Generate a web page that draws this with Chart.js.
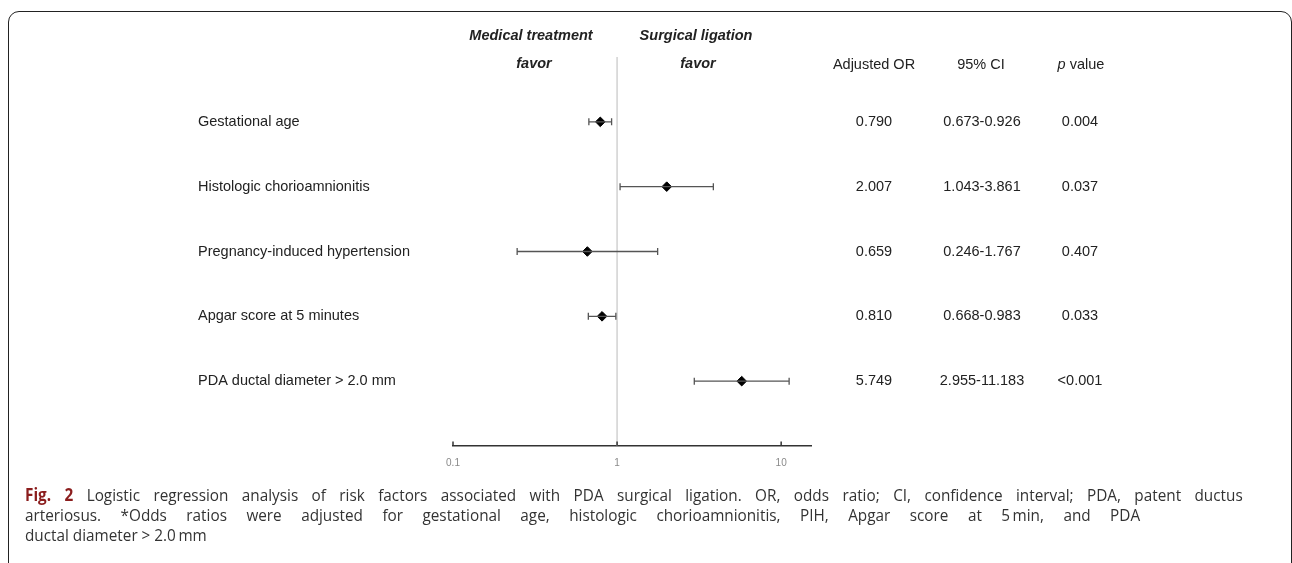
<!DOCTYPE html>
<html>
<head>
<meta charset="utf-8">
<script src="https://cdn.jsdelivr.net/npm/chart.js@4.4.1/dist/chart.umd.min.js"></script>
<style>
  html, body { margin: 0; padding: 0; background: #fff; width: 1292px; height: 563px; overflow: hidden; }
  #frame { position: absolute; left: 8px; top: 11px; width: 1282px; height: 620px; border: 1.6px solid #222; border-radius: 11px; }
  #wrap { position: absolute; left: 0; top: 0; width: 1292px; height: 563px; }
  .hdr { position: absolute; font: italic bold 14.5px "Liberation Sans", Arial, sans-serif; color: #222; transform: translate(-50%, -50%); white-space: nowrap; }
  .col { position: absolute; font: 14.5px "Liberation Sans", Arial, sans-serif; color: #222; transform: translate(-50%, -50%); white-space: nowrap; }
  #caption { position: absolute; left: 25px; top: 485px; width: 1353px; transform: scaleX(0.9); transform-origin: 0 0;
             font: 17px "Open Sans", "Noto Sans", sans-serif; color: #333; line-height: 20px; }
  #caption div { white-space: nowrap; }
  #caption div.just { text-align: justify; text-align-last: justify; }
  #caption div.l2 { width: 1239px; }
  #caption b { color: #8b1d1d; }
</style>
</head>
<body>
<div id="frame"></div>
<div id="wrap"><canvas id="chart"></canvas></div>
<div class="hdr" style="left:531px;top:35px">Medical treatment</div>
<div class="hdr" style="left:534px;top:63px">favor</div>
<div class="hdr" style="left:696px;top:35px">Surgical ligation</div>
<div class="hdr" style="left:698px;top:63px">favor</div>
<div class="col" style="left:874px;top:64px">Adjusted OR</div>
<div class="col" style="left:981px;top:64px">95% CI</div>
<div class="col" style="left:1081px;top:64px"><i>p</i> value</div>
<div id="caption">
  <div class="just"><b>Fig. 2</b> Logistic regression analysis of risk factors associated with PDA surgical ligation. OR, odds ratio; CI, confidence interval; PDA, patent ductus</div>
  <div class="just l2">arteriosus. *Odds ratios were adjusted for gestational age, histologic chorioamnionitis, PIH, Apgar score at 5&#8201;min, and PDA</div>
  <div>ductal diameter &gt; 2.0&#8201;mm</div>
</div>
<script>
const factors = ['Gestational age', 'Histologic chorioamnionitis', 'Pregnancy-induced hypertension', 'Apgar score at 5 minutes', 'PDA ductal diameter > 2.0 mm'];
const oddsRatios = [0.790, 2.007, 0.659, 0.810, 5.749];
const ciLow = [0.673, 1.043, 0.246, 0.668, 2.955];
const ciHigh = [0.926, 3.861, 1.767, 0.983, 11.183];
const orText = ['0.790', '2.007', '0.659', '0.810', '5.749'];
const ciText = ['0.673-0.926', '1.043-3.861', '0.246-1.767', '0.668-0.983', '2.955-11.183'];
const pValues = ['0.004', '0.037', '0.407', '0.033', '<0.001'];
const xTicks = [0.1, 1, 10];

// whiskers, inward axis ticks and the row texts
const forestPlugin = {
  id: 'forest',
  afterDatasetsDraw(chart) {
    const ctx = chart.ctx;
    const xs = chart.scales.x, ys = chart.scales.y;
    ctx.save();
    ctx.strokeStyle = '#555';
    ctx.lineWidth = 1.3;
    factors.forEach((f, i) => {
      const y = ys.getPixelForValue(i + 1);
      const x1 = xs.getPixelForValue(ciLow[i]);
      const x2 = xs.getPixelForValue(ciHigh[i]);
      ctx.beginPath();
      ctx.moveTo(x1, y); ctx.lineTo(x2, y);
      ctx.moveTo(x1, y - 3.5); ctx.lineTo(x1, y + 3.5);
      ctx.moveTo(x2, y - 3.5); ctx.lineTo(x2, y + 3.5);
      ctx.stroke();
    });
    ctx.restore();
  },
  afterDraw(chart) {
    const ctx = chart.ctx;
    const xs = chart.scales.x, ys = chart.scales.y;
    ctx.save();
    // small tick marks pointing up from the axis line
    ctx.strokeStyle = '#333';
    ctx.lineWidth = 1.5;
    xTicks.forEach(v => {
      const x = xs.getPixelForValue(v);
      ctx.beginPath();
      ctx.moveTo(x, chart.chartArea.bottom);
      ctx.lineTo(x, chart.chartArea.bottom - 4.5);
      ctx.stroke();
    });
    ctx.fillStyle = '#222';
    ctx.font = '14.5px "Liberation Sans", Arial, sans-serif';
    ctx.textBaseline = 'middle';
    factors.forEach((f, i) => {
      const y = ys.getPixelForValue(i + 1);
      ctx.textAlign = 'left';
      ctx.fillText(f, 198, y);
      ctx.textAlign = 'center';
      ctx.fillText(orText[i], 874, y);
      ctx.fillText(ciText[i], 982, y);
      ctx.fillText(pValues[i], 1080, y);
    });
    ctx.restore();
  }
};

new Chart(document.getElementById('chart').getContext('2d'), {
  type: 'scatter',
  data: {
    datasets: [
      {
        type: 'line',
        data: [{ x: 1, y: 0 }, { x: 1, y: 6 }],
        borderColor: '#d2d2d2',
        borderWidth: 1.5,
        pointRadius: 0
      },
      {
        data: oddsRatios.map((v, i) => ({ x: v, y: i + 1 })),
        pointStyle: 'rectRot',
        pointRadius: 4.8,
        backgroundColor: '#000',
        borderColor: '#000',
        borderWidth: 1
      }
    ]
  },
  options: {
    responsive: true,
    maintainAspectRatio: false,
    animation: false,
    layout: { padding: { left: 453, right: 481, top: 57, bottom: 87 } },
    plugins: { legend: { display: false }, tooltip: { enabled: false } },
    scales: {
      x: {
        type: 'logarithmic',
        min: 0.1,
        max: 15.2,
        afterBuildTicks(scale) { scale.ticks = xTicks.map(v => ({ value: v })); },
        afterFit(scale) { scale.height = 30; },
        grid: { display: false, drawTicks: false },
        border: { display: true, color: '#333', width: 1.5 },
        ticks: {
          padding: 11,
          color: '#8a8a8a',
          font: { family: 'Liberation Sans', size: 10 },
          callback: v => String(v),
          autoSkip: false,
          maxRotation: 0
        }
      },
      y: {
        display: false,
        min: 0,
        max: 6,
        reverse: true
      }
    }
  },
  plugins: [forestPlugin]
});
</script>
</body>
</html>
